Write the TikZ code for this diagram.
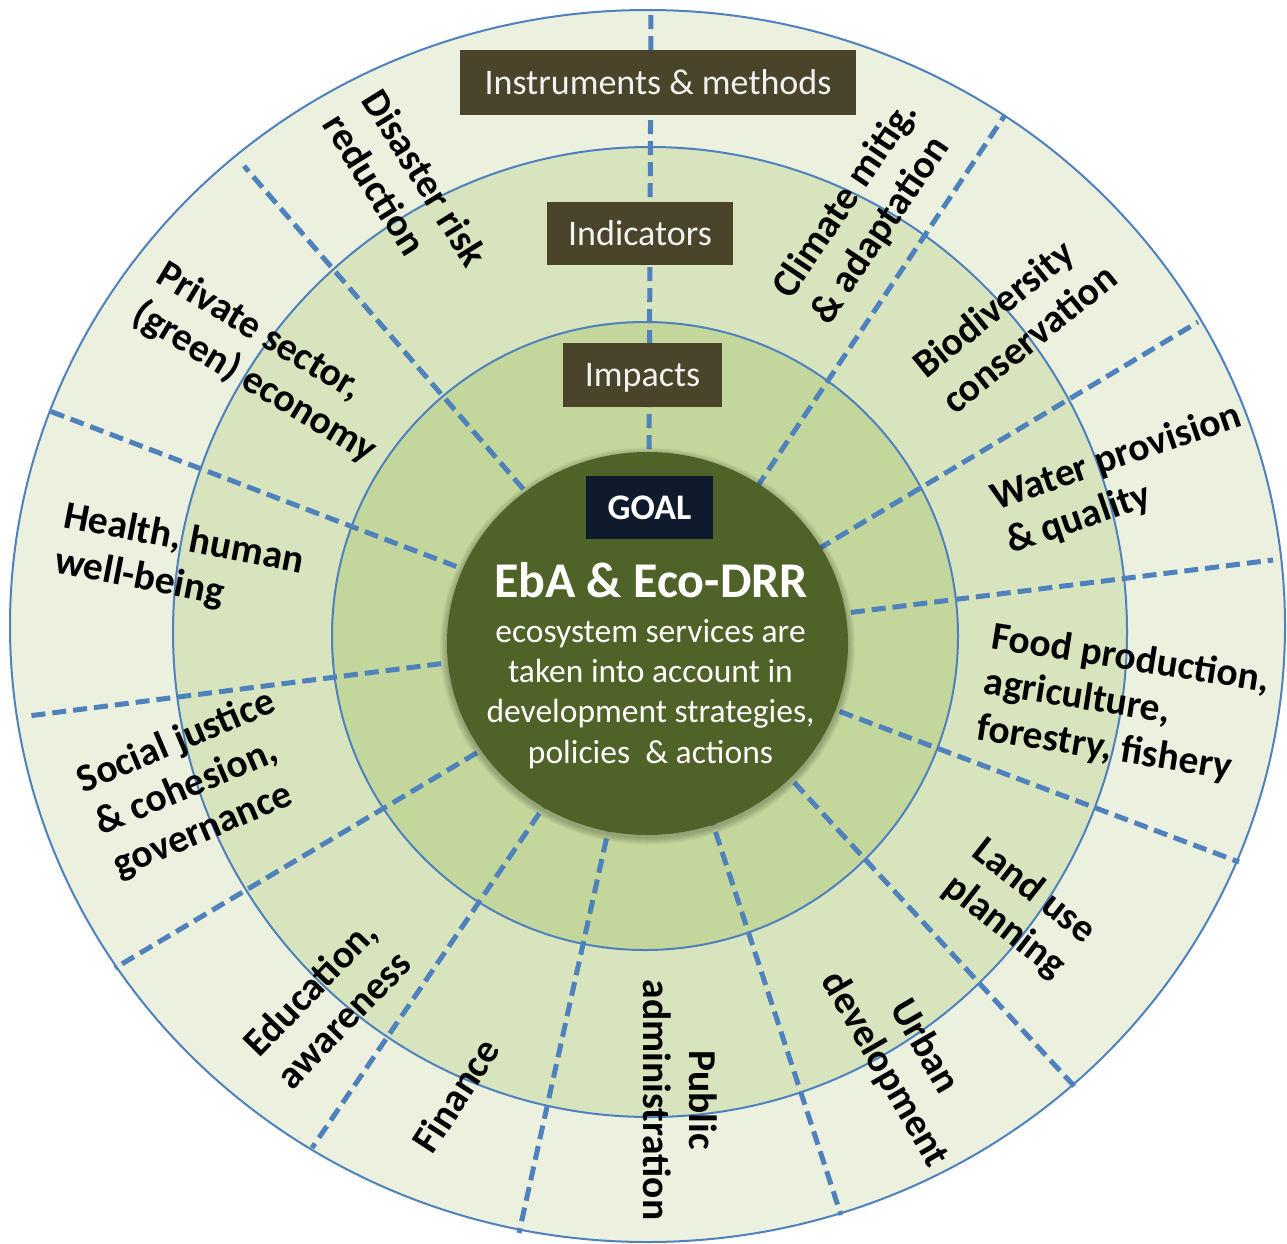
\documentclass[tikz,border=0pt]{standalone}
\usepackage{fontspec}
\setmainfont{Carlito}
\definecolor{ringA}{HTML}{EBF1DE}
\definecolor{ringB}{HTML}{D7E4BD}
\definecolor{ringC}{HTML}{C3D69B}
\definecolor{core}{HTML}{4F6228}
\definecolor{lineblue}{HTML}{4F81BD}
\definecolor{boxbrown}{HTML}{4A452A}
\definecolor{goalbox}{HTML}{0F1B2C}
\begin{document}
\begin{tikzpicture}[x=1pt,y=-1pt,
  ringline/.style={draw=lineblue, line width=2pt},
  divider/.style={draw=lineblue, line width=5pt, dash pattern=on 14pt off 7pt},
  levelbox/.style={fill=boxbrown, text=white!95!black, inner sep=0pt, text height=23pt, text depth=0pt, font=\fontsize{36}{43}\selectfont},
  sector/.style={inner sep=0pt, text=black, font=\bfseries\fontsize{39.5}{46}\selectfont},
]
\fill[white] (0,0) rectangle (1287,1243);
\useasboundingbox (0,0) rectangle (1287,1243);

% rings
\fill[ringA] (647.5,626) ellipse [x radius=637.5, y radius=616];
\fill[ringB] (650,632) ellipse [x radius=477, y radius=485];
\fill[ringC] (645,636) ellipse [x radius=313, y radius=314];
\draw[ringline] (647.5,626) ellipse [x radius=637.5, y radius=616];
\draw[ringline] (650,632) ellipse [x radius=477, y radius=485];
\draw[ringline] (645,636) ellipse [x radius=313, y radius=314];

% dividers
\draw[divider] (649,470) -- (651,10);
\draw[divider] (745,505) -- (1005,115);
\draw[divider] (800,560) -- (1198,322);
\draw[divider] (830,615) -- (1273,560);
\draw[divider] (820,704) -- (1239,862);
\draw[divider] (780,767) -- (1075,1087);
\draw[divider] (709,812) -- (841,1215);
\draw[divider] (611,818) -- (519,1233);
\draw[divider] (551,796) -- (312,1148);
\draw[divider] (495,742) -- (115,968);
\draw[divider] (462,661) -- (28,716);
\draw[divider] (476,574) -- (47,410);
\draw[divider] (537,505) -- (244,166);

% soft shadow of the core
\foreach \g in {1,2,...,7}
  \fill[black, opacity=0.035] (647.5,646) ellipse [x radius=200.5+\g, y radius=191.5+\g];
% core
\fill[core] (647.5,643.5) ellipse [x radius=200.5, y radius=191.5];

% level boxes
\node[levelbox, minimum width=396pt, minimum height=65pt] (instr) at (658,82.5) {Instruments \& methods};
\node[levelbox, minimum width=186pt, minimum height=63pt] (indic) at (640,233.5) {Indicators};
\node[levelbox, minimum width=159pt, minimum height=64pt] (impac) at (642.5,375) {Impacts};
\node[fill=goalbox, text=white, inner sep=0pt, minimum width=127pt, minimum height=63pt,
      text height=23pt, text depth=0pt,
      font=\bfseries\fontsize{36}{42}\selectfont] (goal) at (649.5,507.5) {GOAL};

% central text
\node[text=white, inner sep=0pt, anchor=base, font=\bfseries\fontsize{50}{58}\selectfont] (title) at (651,597) {EbA \& Eco-DRR};
\node[text=white, inner sep=0pt, anchor=north, align=center, font=\fontsize{33.5}{40.3}\selectfont] (body) at (650.5,612)
  {\rule{0pt}{30pt}ecosystem services are\\taken into account in\\development strategies,\\policies \ \& actions};

% sector labels
\node[sector, rotate=-58, anchor=north west, align=left] (drr) at (386.4,84.1) {\rule{0pt}{30pt}Disaster risk\\reduction};
\node[sector, rotate=56, anchor=north west, align=left] (clim) at (766,283.6) {\rule{0pt}{30pt}Climate mitig.\\\& adaptation};
\node[sector, rotate=39, anchor=north west, align=left] (bio) at (907,356.4) {\rule{0pt}{30pt}Biodiversity\\conservation};
\node[sector, rotate=19, anchor=north west, align=left] (water) at (986,482) {\rule{0pt}{30pt}Water provision\\\& quality};
\node[sector, rotate=-9, anchor=north west, align=left] (food) at (994.7,618.4) {\rule{0pt}{30pt}Food production,\\agriculture,\\forestry, fishery};
\node[sector, rotate=-38, anchor=north west, align=left] (land) at (988.5,831.4) {\rule{0pt}{30pt}Land use\\planning};
\node[sector, rotate=-60, anchor=north, align=center] (urban) at (941,1037) {\rule{0pt}{30pt}Urban\\development};
\node[sector, rotate=-90, anchor=north, align=center] (pub) at (720,1100) {\rule{0pt}{30pt}Public\\administration};
\node[sector, rotate=57, anchor=north, align=center] (fin) at (442,1086) {\rule{0pt}{30pt}Finance};
\node[sector, rotate=46, anchor=north, align=center] (edu) at (298,976) {\rule{0pt}{30pt}Education,\\awareness};
\node[sector, rotate=23, anchor=north west, align=left] (soc) at (72,765.5) {\rule{0pt}{30pt}Social justice\\\& cohesion,\\governance};
\node[sector, rotate=-11, anchor=north west, align=left] (health) at (67.7,497.5) {\rule{0pt}{30pt}Health, human\\well-being};
\node[sector, rotate=-31, anchor=north west, align=left] (priv) at (169.5,255.3) {\rule{0pt}{30pt}Private sector,\\(green) economy};
\end{tikzpicture}
\end{document}
